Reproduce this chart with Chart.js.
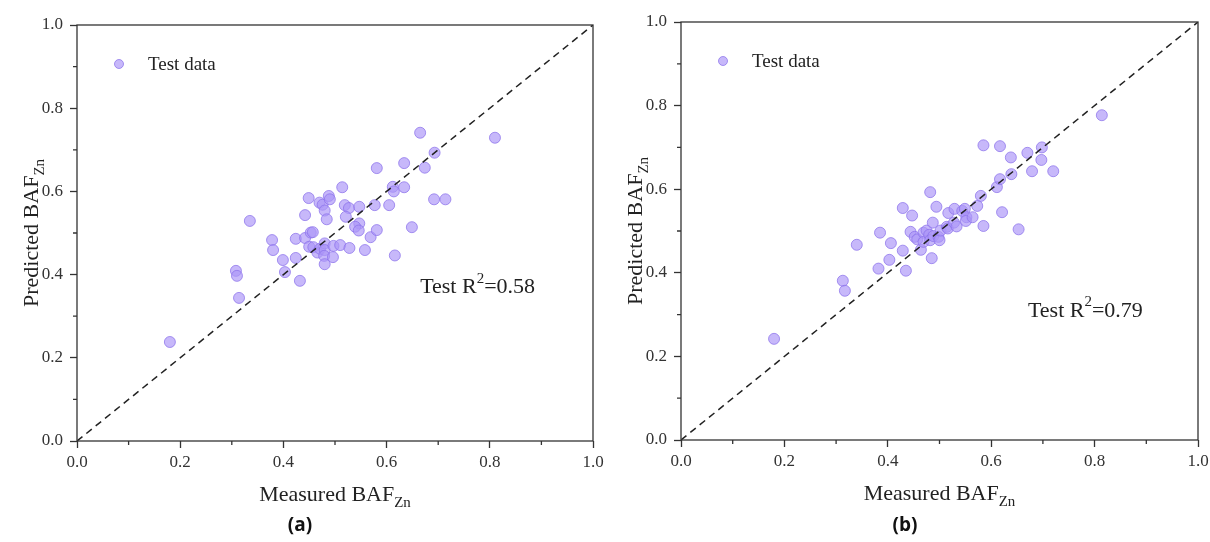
<!DOCTYPE html>
<html>
<head>
<meta charset="utf-8">
<title>Measured vs predicted BAF Zn</title>
<script src="https://cdn.jsdelivr.net/npm/chart.js@4.4.1/dist/chart.umd.min.js"></script>
<style>
  body { margin: 0; background: #fff; }
  #page { position: relative; width: 1210px; height: 542px; overflow: hidden; }
  canvas { position: absolute; top: 0; }
  .tag { position: absolute; top: 511px; width: 60px; text-align: center;
         font: bold 19px "Open Sans", sans-serif; color: #111; }
</style>
</head>
<body>
<div id="page">
  <canvas id="chartA" width="605" height="542" style="left:0"></canvas>
  <canvas id="chartB" width="605" height="542" style="left:605px"></canvas>
  <div class="tag" style="left:270px">(a)</div>
  <div class="tag" style="left:875px">(b)</div>
</div>
<script>
// ---- data ----
const measuredA = [0.180, 0.308, 0.310, 0.314, 0.335, 0.378, 0.380, 0.399, 0.403, 0.424,
  0.424, 0.432, 0.442, 0.442, 0.449, 0.453, 0.457, 0.450, 0.458, 0.466,
  0.471, 0.480, 0.480, 0.479, 0.480, 0.497, 0.496, 0.510, 0.528, 0.470,
  0.476, 0.480, 0.488, 0.490, 0.484, 0.514, 0.519, 0.527, 0.521, 0.547,
  0.547, 0.539, 0.546, 0.558, 0.569, 0.577, 0.581, 0.581, 0.605, 0.612,
  0.614, 0.634, 0.616, 0.634, 0.649, 0.665, 0.674, 0.693, 0.692, 0.714, 0.810];
const predictedA = [0.238, 0.409, 0.397, 0.344, 0.529, 0.483, 0.459, 0.435, 0.406, 0.486,
  0.440, 0.385, 0.488, 0.543, 0.584, 0.501, 0.502, 0.467, 0.466, 0.453,
  0.462, 0.475, 0.459, 0.445, 0.425, 0.469, 0.442, 0.471, 0.464, 0.573,
  0.568, 0.554, 0.589, 0.581, 0.533, 0.610, 0.567, 0.560, 0.539, 0.563,
  0.523, 0.515, 0.506, 0.459, 0.490, 0.567, 0.507, 0.656, 0.567, 0.611,
  0.600, 0.610, 0.446, 0.668, 0.514, 0.741, 0.657, 0.693, 0.581, 0.581, 0.729];

const measuredB = [0.180, 0.313, 0.317, 0.340, 0.382, 0.385, 0.403, 0.406, 0.429, 0.435,
  0.429, 0.447, 0.444, 0.452, 0.457, 0.464, 0.469, 0.469, 0.475, 0.480,
  0.482, 0.488, 0.487, 0.485, 0.482, 0.494, 0.498, 0.500, 0.502, 0.514,
  0.517, 0.516, 0.529, 0.528, 0.533, 0.544, 0.549, 0.552, 0.551, 0.564,
  0.573, 0.580, 0.585, 0.585, 0.611, 0.617, 0.617, 0.621, 0.638, 0.639,
  0.653, 0.670, 0.679, 0.697, 0.698, 0.720, 0.814];
const predictedB = [0.242, 0.381, 0.357, 0.467, 0.410, 0.496, 0.431, 0.471, 0.453, 0.405,
  0.555, 0.537, 0.498, 0.486, 0.480, 0.455, 0.496, 0.474, 0.501, 0.491,
  0.478, 0.488, 0.520, 0.435, 0.593, 0.558, 0.486, 0.478, 0.501, 0.510,
  0.543, 0.506, 0.553, 0.520, 0.511, 0.548, 0.553, 0.533, 0.524, 0.533,
  0.560, 0.584, 0.705, 0.512, 0.605, 0.624, 0.703, 0.545, 0.676, 0.636,
  0.504, 0.687, 0.643, 0.670, 0.700, 0.643, 0.777];

const majorTicks = [0.0, 0.2, 0.4, 0.6, 0.8, 1.0];
const minorTicks = [0.1, 0.3, 0.5, 0.7, 0.9];
const diagonal = [{ x: 0, y: 0 }, { x: 1, y: 1 }];
const legendLabel = 'Test data';
const xTitle = ['Measured BAF', 'Zn'];
const yTitle = ['Predicted BAF', 'Zn'];

const serif = '"Liberation Serif", "Times New Roman", serif';
const ink = '#333';
const dotFill = 'rgba(172, 150, 248, 0.68)';
const dotEdge = 'rgba(140, 115, 235, 0.75)';

// text with a small lowered (sub) or raised (sup) piece, starting at x
function drawRich(ctx, parts, x, y, size) {
  let cx = x;
  parts.forEach(p => {
    const s = p.sub || p.sup ? size * 0.68 : size;
    ctx.font = s + 'px ' + serif;
    const dy = p.sub ? size * 0.28 : (p.sup ? -size * 0.38 : 0);
    ctx.fillText(p.t, cx, y + dy);
    cx += ctx.measureText(p.t).width;
  });
  return cx - x;
}
function richWidth(ctx, parts, size) {
  let w = 0;
  parts.forEach(p => {
    ctx.font = (p.sub || p.sup ? size * 0.68 : size) + 'px ' + serif;
    w += ctx.measureText(p.t).width;
  });
  return w;
}

// frame, minor ticks, axis titles, legend and R2 note
const decor = {
  id: 'decor',
  afterDraw(chart, args, opts) {
    const { ctx, chartArea: a, scales: { x, y } } = chart;
    ctx.save();
    ctx.strokeStyle = ink;
    ctx.lineWidth = 1.3;
    ctx.strokeRect(a.left, a.top, a.right - a.left, a.bottom - a.top);
    minorTicks.forEach(v => {
      const px = x.getPixelForValue(v), py = y.getPixelForValue(v);
      ctx.beginPath();
      ctx.moveTo(px, a.bottom); ctx.lineTo(px, a.bottom + 4);
      ctx.moveTo(a.left, py); ctx.lineTo(a.left - 4, py);
      ctx.stroke();
    });

    ctx.fillStyle = '#222';
    ctx.textAlign = 'left';
    ctx.textBaseline = 'alphabetic';
    const size = 22;
    const xt = [{ t: xTitle[0] }, { t: xTitle[1], sub: true }];
    const cx = (a.left + a.right) / 2;
    drawRich(ctx, xt, cx - richWidth(ctx, xt, size) / 2, a.bottom + 60, size);

    const yt = [{ t: yTitle[0] }, { t: yTitle[1], sub: true }];
    ctx.save();
    ctx.translate(a.left - 39, (a.top + a.bottom) / 2);
    ctx.rotate(-Math.PI / 2);
    drawRich(ctx, yt, -richWidth(ctx, yt, size) / 2, 0, size);
    ctx.restore();

    // legend
    const lx = a.left + 42, ly = a.top + 39;
    ctx.beginPath();
    ctx.arc(lx, ly, 4.5, 0, Math.PI * 2);
    ctx.fillStyle = dotFill; ctx.fill();
    ctx.strokeStyle = dotEdge; ctx.lineWidth = 1; ctx.stroke();
    ctx.fillStyle = '#222';
    ctx.font = '19px ' + serif;
    ctx.textBaseline = 'middle';
    ctx.fillText(legendLabel, lx + 29, ly + 1);

    // R2 note
    ctx.textBaseline = 'middle';
    drawRich(ctx, [{ t: 'Test R' }, { t: '2', sup: true }, { t: '=' + opts.r2 }],
      x.getPixelForValue(opts.noteAt[0]), y.getPixelForValue(opts.noteAt[1]), size);
    ctx.restore();
  }
};

function makeChart(id, xs, ys, r2, noteAt, pad) {
  const pts = xs.map((v, i) => ({ x: v, y: ys[i] }));
  const tickFont = { family: serif, size: 17 };
  return new Chart(document.getElementById(id), {
    type: 'scatter',
    data: {
      datasets: [
        {
          type: 'line', data: diagonal, borderColor: '#222', borderWidth: 1.5,
          borderDash: [7, 5], pointRadius: 0, fill: false, order: 0
        },
        {
          label: legendLabel, data: pts, pointRadius: 5.5,
          backgroundColor: dotFill, borderColor: dotEdge, borderWidth: 1, order: 1
        }
      ]
    },
    options: {
      responsive: false,
      animation: false,
      layout: { padding: { top: pad.top, right: 12, left: 0, bottom: 0 } },
      plugins: { legend: { display: false }, tooltip: { enabled: false },
                 decor: { r2: r2, noteAt: noteAt } },
      scales: {
        x: {
          type: 'linear', min: 0, max: 1,
          afterBuildTicks: s => { s.ticks = majorTicks.map(v => ({ value: v })); },
          ticks: { color: ink, font: tickFont, padding: 4, maxRotation: 0,
                   callback: v => v.toFixed(1) },
          grid: { drawOnChartArea: false, tickLength: 7, tickColor: ink, tickWidth: 1.3 },
          border: { display: false },
          afterFit: s => { s.height = pad.bottom; s.paddingLeft = 0; s.paddingRight = 0; }
        },
        y: {
          type: 'linear', min: 0, max: 1,
          afterBuildTicks: s => { s.ticks = majorTicks.map(v => ({ value: v })); },
          ticks: { color: ink, font: tickFont, padding: 7,
                   callback: v => v.toFixed(1) },
          grid: { drawOnChartArea: false, tickLength: 7, tickColor: ink, tickWidth: 1.3 },
          border: { display: false },
          afterFit: s => { s.width = pad.left; s.paddingTop = 0; s.paddingBottom = 0; }
        }
      }
    },
    plugins: [decor]
  });
}

makeChart('chartA', measuredA, predictedA, '0.58', [0.665, 0.37], { top: 25, bottom: 101, left: 77 });
makeChart('chartB', measuredB, predictedB, '0.79', [0.671, 0.309], { top: 22, bottom: 102, left: 76 });
</script>
</body>
</html>
